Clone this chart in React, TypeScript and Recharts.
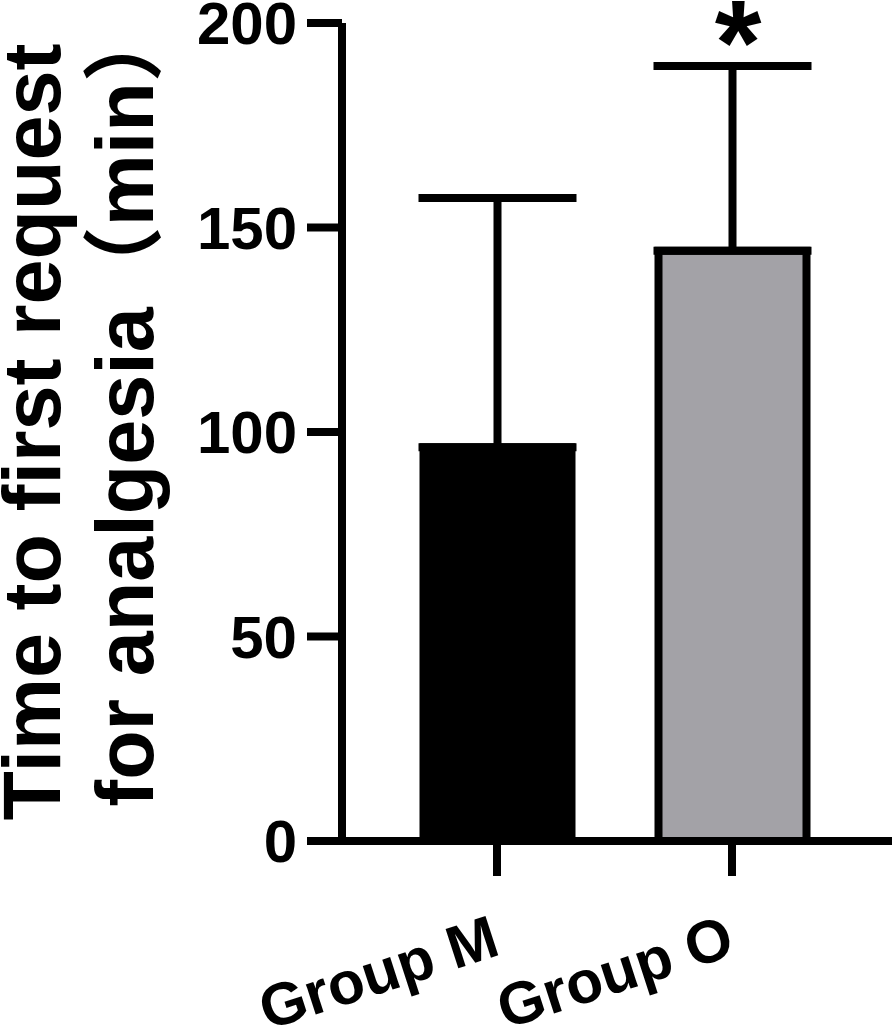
import { ComposedChart, Bar, Cell, ErrorBar, Scatter, XAxis, YAxis } from 'recharts'

const categories = ['Group M', 'Group O']
const means = [96.3, 144.3]
const sds = [60.9, 45.2]
const marks = ['', '*']
const fills = ['#000000', '#a3a2a7']
const yTicks = [0, 50, 100, 150, 200]

const data = categories.map((name, i) => ({
  name,
  mean: means[i],
  err: [0, sds[i]],
  top: means[i] + sds[i],
  mark: marks[i],
}))

const FONT = '"Liberation Sans", Arial, "Noto Sans CJK SC", sans-serif'

function XTick({ x, y, payload }: any) {
  const tx = x + 5
  const ty = y + 76
  return (
    <text
      x={tx}
      y={ty}
      textAnchor="end"
      transform={`rotate(-18, ${tx}, ${ty})`}
      fontFamily={FONT}
      fontWeight="bold"
      fontSize={60}
      fill="#000"
    >
      {payload.value}
    </text>
  )
}

function YTitle({ viewBox }: any) {
  const cy = viewBox.y + viewBox.height / 2
  const cy2 = cy - 28
  return (
    <g fontFamily={FONT} fontWeight="bold" fontSize={81} fill="#000">
      <text x={60} y={cy} textAnchor="middle" transform={`rotate(-90, 60, ${cy})`}>
        Time to first request
      </text>
      <text x={153} y={cy2} textAnchor="middle" transform={`rotate(-90, 153, ${cy2})`}>
        for analgesia（min）
      </text>
    </g>
  )
}

function Star({ cx, cy, payload }: any) {
  if (!payload.mark) return <g />
  return (
    <text
      x={cx + 6}
      y={cy + 18}
      textAnchor="middle"
      fontFamily={FONT}
      fontWeight="bold"
      fontSize={120}
      fill="#000"
    >
      {payload.mark}
    </text>
  )
}

export default function App() {
  return (
    <div style={{ position: 'absolute', left: 0, top: 0, background: '#fff' }}>
      <ComposedChart
        width={893}
        height={1031}
        data={data}
        margin={{ top: 23, right: 1, left: 0, bottom: 0 }}
      >
        <XAxis
          dataKey="name"
          height={190}
          padding={{ left: 37.5, right: 42.5 }}
          axisLine={{ stroke: '#000', strokeWidth: 8 }}
          tickLine={{ stroke: '#000', strokeWidth: 8 }}
          tickSize={35}
          tick={<XTick />}
          interval={0}
        />
        <YAxis
          width={342}
          domain={[0, 200]}
          ticks={yTicks}
          interval={0}
          axisLine={{ stroke: '#000', strokeWidth: 8 }}
          tickLine={{ stroke: '#000', strokeWidth: 8 }}
          tickSize={35}
          tickMargin={10}
          tick={{ fill: '#000', fontSize: 60, fontWeight: 'bold', fontFamily: FONT }}
          label={<YTitle />}
        />
        <Bar dataKey="mean" barSize={148} stroke="#000" strokeWidth={8} isAnimationActive={false}>
          {data.map((_, i) => (
            <Cell key={i} fill={fills[i]} />
          ))}
          <ErrorBar dataKey="err" width={79} stroke="#000" strokeWidth={8} isAnimationActive={false} />
        </Bar>
        <Scatter dataKey="top" shape={<Star />} isAnimationActive={false} />
      </ComposedChart>
    </div>
  )
}
